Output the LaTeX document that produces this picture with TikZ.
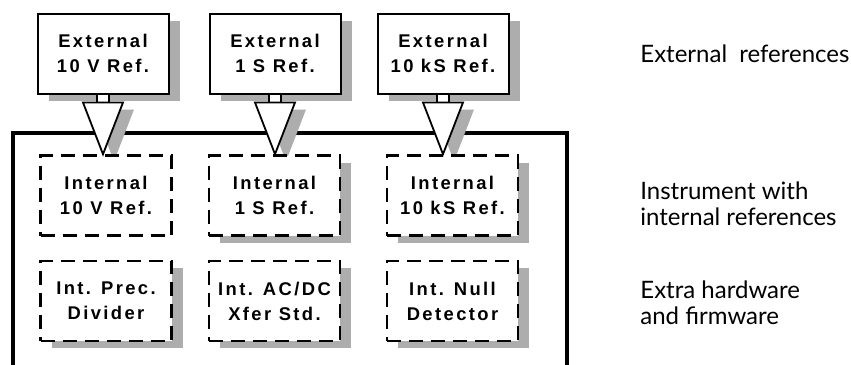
\documentclass[tikz,border=0pt]{standalone}
\usepackage{fontspec}
\setmainfont{Lato}
\newfontfamily\tagfamily{Liberation Sans}[LetterSpace=13]
\usetikzlibrary{calc,shadows}
\newcommand{\tagfont}{\tagfamily\bfseries\fontsize{9.2}{12.5}\selectfont}
\pgfdeclarelayer{back}
\pgfsetlayers{back,main}

\tikzset{
  boxshade/.style={drop shadow={shadow xshift=5.5pt, shadow yshift=-3.5pt, fill=black!32, opacity=1}},
  extbox/.style={draw, line width=1pt, fill=white, minimum width=65.5pt, minimum height=40pt,
    inner sep=0pt, align=center, font=\tagfont, boxshade},
  intbox/.style={draw, line width=1.3pt, dash pattern=on 7pt off 4pt, fill=white,
    minimum width=65.5pt, minimum height=40pt, inner sep=0pt, align=center, font=\tagfont},
  sidelabel/.style={anchor=west, align=left, inner sep=0pt, font=\fontsize{12}{13}\selectfont},
  funnel/.style={draw, line width=0.9pt, fill=white},
  funnelshade/.style={fill=black!32},
}

\begin{document}
\begin{tikzpicture}[x=0.5pt, y=-0.5pt]
  \useasboundingbox (0,0) rectangle (851,364);

  % External standards
  \node[extbox] (ext10V)  at (103,53.5) {External\\10 V Ref.};
  \node[extbox] (ext1S)   at (275,53.5) {External\\1 S Ref.};
  \node[extbox] (ext10kS) at (443,53.5) {External\\10 kS Ref.};

  % Internal references
  \node[intbox]           (int10V)  at (106,195.5)   {Internal\\10 V Ref.};
  \node[intbox, boxshade] (int1S)   at (274.5,195.5) {Internal\\1 S Ref.};
  \node[intbox, boxshade] (int10kS) at (452.5,195.5) {Internal\\10 kS Ref.};

  % Extra hardware
  \node[intbox, boxshade] (divider) at (106,301)   {Int. Prec.\\Divider};
  \node[intbox, boxshade] (xfer)    at (274.5,301) {Int. AC/DC\\Xfer Std.};
  \node[intbox, boxshade] (nulldet) at (452.5,301) {Int. Null\\Detector};

  % Instrument outline and funnel shadows
  \begin{pgfonlayer}{back}
    \draw[line width=1.7pt] (13,370) -- (13,133) -- (567,133) -- (567,370);
    \foreach \e/\i in {ext10V/int10V, ext1S/int1S, ext10kS/int10kS} {
      \fill[funnelshade] ($(\e.south)+(5,7)$) rectangle ($(\e.south)+(17,15)$);
      \fill[funnelshade] ($(\e.south)+(-9,15)$) -- ($(\e.south)+(31,15)$)
        -- ($(\e.south |- \i.north)+(11,7)$) -- cycle;
    }
  \end{pgfonlayer}

  % Transfer funnels
  \foreach \e/\i in {ext10V/int10V, ext1S/int1S, ext10kS/int10kS} {
    \draw[funnel] ($(\e.south)+(-6,0)$) rectangle ($(\e.south)+(6,8)$);
    \draw[funnel] ($(\e.south)+(-20,8)$) -- ($(\e.south)+(20,8)$)
      -- (\e.south |- \i.north) -- cycle;
  }

  % Level descriptions
  \node[sidelabel] (lblext)   at (640,54)  {External\hspace{3pt} references};
  \node[sidelabel] (lblinst)  at (640,204) {Instrument with\\internal references};
  \node[sidelabel] (lblextra) at (640,303) {Extra hardware\\and firmware};
\end{tikzpicture}
\end{document}
